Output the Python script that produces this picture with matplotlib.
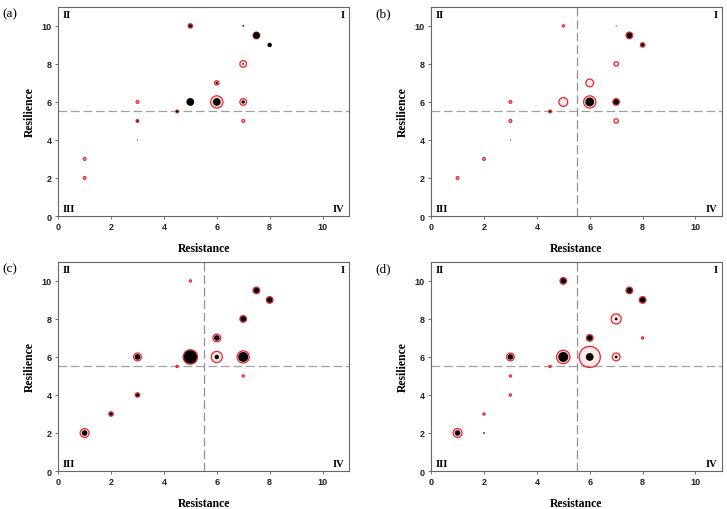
import numpy as np
import matplotlib
matplotlib.use("Agg")
import matplotlib.pyplot as plt

# bubble data per panel: x (resistance), y (resilience),
# black = filled circle diameter, red = ring diameter (pixels)
a_x = [5, 7, 7.5, 8, 7, 6, 5, 6, 7, 4.5, 7, 3, 3, 3, 1, 1]
a_y = [10, 10, 9.5, 9, 8, 7, 6, 6, 6, 5.5, 5, 6, 5, 4, 3, 2]
a_black = [3, 1.5, 6, 4, 1.5, 2, 7, 7, 3, 2, 0, 0, 1.5, 1, 0, 0]
a_red = [4, 0, 6, 0, 6, 4, 0, 11, 6, 2.5, 2.5, 2.5, 2.5, 0, 2.5, 2.5]

b_x = [5, 7, 7.5, 8, 7, 6, 5, 6, 7, 7, 4.5, 3, 3, 3, 2, 1]
b_y = [10, 10, 9.5, 9, 8, 7, 6, 6, 6, 5, 5.5, 6, 5, 4, 3, 2]
b_black = [0, 1, 5, 3, 0, 0, 0, 8, 5, 0, 1.5, 0, 0, 1, 0, 0]
b_red = [2, 0, 6, 4, 4, 7, 8, 11, 6, 4, 2.5, 2.5, 2.5, 0, 2.5, 2.5]

c_x = [5, 7.5, 8, 7, 6, 3, 5, 6, 7, 4.5, 7, 3, 2, 1]
c_y = [10, 9.5, 9, 8, 7, 6, 6, 6, 6, 5.5, 5, 4, 3, 2]
c_black = [0, 5, 5, 5, 5, 5, 12, 4, 9, 0, 0, 3, 3, 5]
c_red = [2, 6, 6, 6, 7, 7, 13, 10, 11, 2, 2, 4, 4, 8]

d_x = [5, 7.5, 8, 7, 8, 6, 3, 5, 6, 7, 4.5, 3, 3, 2, 2, 1]
d_y = [10, 9.5, 9, 8, 7, 7, 6, 6, 6, 6, 5.5, 5, 4, 3, 2, 2]
d_black = [5, 5, 5, 2.5, 0, 5, 5, 9, 7, 2.5, 0, 0, 0, 0, 1.5, 5]
d_red = [6, 6, 6, 9, 2, 6, 7, 12, 19, 7, 2, 2, 2, 2, 0, 8]

panels = [
    ("(a)", a_x, a_y, a_black, a_red, 5.55, None),
    ("(b)", b_x, b_y, b_black, b_red, 5.5, 5.5),
    ("(c)", c_x, c_y, c_black, c_red, 5.55, 5.5),
    ("(d)", d_x, d_y, d_black, d_red, 5.5, 5.5),
]
ticks = [0, 2, 4, 6, 8, 10]

serif = "Liberation Serif"
sans = "Liberation Sans"

fig = plt.figure(figsize=(7.27, 5.10), dpi=100)
pos = [(0.080, 0.5745), (0.593, 0.5745), (0.080, 0.0745), (0.593, 0.0745)]
W, H = 0.400, 0.410


def sz(d):
    return (np.asarray(d, dtype=float) * 0.8) ** 2


for (lab, x, y, blk, red, hline, vline), (l, b) in zip(panels, pos):
    ax = fig.add_axes([l, b, W, H])
    ax.set_xlim(0, 11)
    ax.set_ylim(0, 11)
    x = np.asarray(x); y = np.asarray(y)
    blk = np.asarray(blk); red = np.asarray(red)

    ax.axhline(hline, color="#a0a0a0", ls=(0, (7, 3)), lw=0.9, zorder=1)
    if vline is not None:
        ax.axvline(vline, color="#909090", ls=(0, (7, 3)), lw=0.9, zorder=1)

    m = red > 0
    ax.scatter(x[m], y[m], s=sz(red[m]), facecolors=(1, 0.3, 0.3, 0.12),
               edgecolors="#e8262a", linewidths=0.9, zorder=2)
    m = blk > 0
    ax.scatter(x[m], y[m], s=sz(blk[m]), color="black", linewidths=0, zorder=3)

    ax.set_xticks(ticks)
    ax.set_yticks(ticks)
    ax.tick_params(length=2.5, width=0.6, labelsize=6.5, pad=2, color="#555555",
                   labelcolor="#222222")
    for t in ax.get_xticklabels() + ax.get_yticklabels():
        t.set_fontfamily(sans)
        t.set_fontweight("bold")
    for s in ax.spines.values():
        s.set_color("#666666")
        s.set_linewidth(0.8)

    ax.set_xlabel("Resistance", fontfamily=serif, fontweight="bold", fontsize=8.5, labelpad=8)
    ax.set_ylabel("Resilience", fontfamily=serif, fontweight="bold", fontsize=8.5, labelpad=4)

    qk = dict(fontfamily=serif, fontweight="bold", fontsize=7.5, transform=ax.transAxes)
    ax.text(0.015, 0.985, "II", ha="left", va="top", **qk)
    ax.text(0.985, 0.985, "I", ha="right", va="top", **qk)
    ax.text(0.015, 0.015, "III", ha="left", va="bottom", **qk)
    ax.text(0.985, 0.015, "IV", ha="right", va="bottom", **qk)

    ax.text(l - 0.077, b + H - 0.012, lab, transform=fig.transFigure,
            fontfamily=serif, fontsize=9.5, ha="left", va="center")

fig.savefig("out.png", dpi=100)
